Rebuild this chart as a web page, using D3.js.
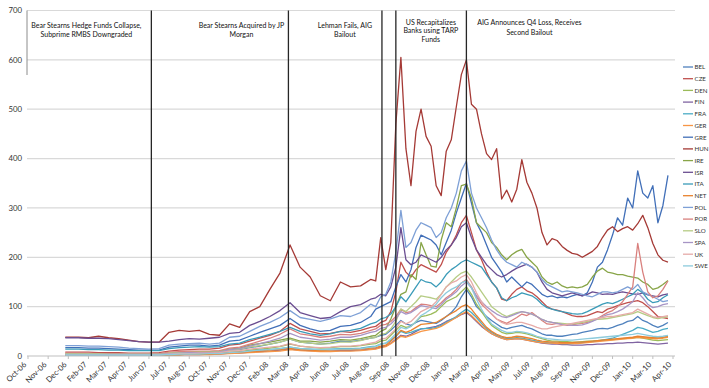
<!DOCTYPE html>
<html><head><meta charset="utf-8">
<script src="https://cdn.jsdelivr.net/npm/d3@7"></script>
<style>body{margin:0;background:#fff} svg{display:block} text{font-family:Lato,'Open Sans',sans-serif}</style>
</head><body><svg id="c" width="709" height="388"></svg>
<script>
const tickLabels = ["Oct-06","Nov-06","Dec-06","Feb-07","Mar-07","Apr-07","Jun-07","Jul-07","Aug-07","Oct-07","Nov-07","Dec-07","Feb-08","Mar-08","Apr-08","Jun-08","Jul-08","Aug-08","Sep-08","Nov-08","Dec-08","Jan-09","Mar-09","Apr-09","May-09","Jul-09","Aug-09","Sep-09","Nov-09","Dec-09","Jan-10","Mar-10","Apr-10"];
const yTicks = [0,100,200,300,400,500,600,700];
// observation positions, in units of the category-axis label interval
const periods = [1.85,2,2.5,3,3.5,4,4.5,5,5.5,6,6.5,7,7.5,8,8.5,9,9.5,10,10.5,11,11.5,12,12.5,13,13.5,14,14.5,15,15.5,16,16.5,17,
17.25,17.5,17.75,18,18.25,18.5,18.75,19,19.25,19.5,19.75,20,20.25,20.5,20.75,21,21.25,21.5,21.75,22,22.25,22.5,22.75,23,23.25,23.5,23.75,24,24.25,24.5,24.75,25,25.25,25.5,25.75,26,26.25,26.5,26.75,27,27.25,27.5,27.75,28,28.25,28.5,28.75,29,29.25,29.5,29.75,30,30.25,30.5,30.75,31,31.25,31.5,31.75];
const countries = ["BEL","CZE","DEN","FIN","FRA","GER","GRE","HUN","IRE","ISR","ITA","NET","POL","POR","SLO","SPA","UK","SWE"];
const colors = ["#4F81BD","#C0504D","#9BBB59","#8064A2","#4BACC6","#F79646","#416FB8","#A53A36","#88A548","#6B4E91","#3A9BB8","#E8822E","#7EA0D6","#D9807E","#B6CC85","#A795C5","#E6ABA8","#8DCBDC"];

const BEL = [3,3,3,3,3,3,3,3,3,3,3,5,6,6,7,7,8,12,13,17,20,24,28,34,28,26,24,26,30,29,32,36,
38,42,44,52,62,72,65,62,68,72,70,68,66,72,80,88,100,120,135,120,100,90,80,72,65,58,55,58,60,62,58,55,50,45,42,42,40,40,42,44,45,48,50,52,55,56,55,58,62,65,70,72,80,72,68,62,58,62,68];
const CZE = [8,8,8,8,7,7,7,6,6,6,7,10,12,13,14,14,16,22,24,30,36,42,50,66,55,50,45,46,50,48,52,58,
60,68,72,90,130,190,170,160,175,185,180,175,170,185,210,225,245,270,285,250,215,195,170,150,138,115,112,125,135,140,132,128,120,110,100,95,93,90,86,82,80,80,82,86,90,88,95,98,102,105,108,110,112,108,100,90,80,78,76];
const DEN = [2,2,2,2,2,2,2,2,2,2,2,3,3,4,4,5,5,8,9,12,14,16,19,24,20,18,16,17,19,19,21,24,
25,30,32,42,52,62,58,60,70,80,82,85,90,100,110,115,120,130,140,125,105,90,75,62,55,48,45,46,48,47,45,42,38,35,32,30,30,29,29,28,28,29,30,30,31,32,32,33,34,35,36,36,38,36,34,32,31,32,33];
const FIN = [2,2,2,2,2,2,2,2,2,2,2,3,3,3,3,4,4,6,6,8,9,10,12,14,12,11,10,10,11,11,12,14,
15,18,20,26,34,42,40,44,50,55,56,58,60,64,70,74,78,84,88,80,70,60,52,45,40,36,33,34,35,34,32,30,28,26,25,24,24,23,23,22,22,22,23,23,24,24,25,25,26,26,27,27,28,27,26,25,24,25,26];
const FRA = [2,2,2,2,2,2,2,2,2,2,2,3,3,4,4,4,5,7,8,10,12,13,15,18,15,14,13,14,15,15,16,19,
20,24,26,32,40,50,46,48,52,55,56,56,58,62,68,74,80,88,95,88,78,66,55,48,42,38,35,36,37,36,34,32,30,28,27,26,26,25,25,25,26,27,28,29,30,32,34,36,40,44,48,52,58,56,52,48,50,54,56];
const GER = [2,2,2,2,2,2,2,2,2,2,2,3,3,3,3,3,4,5,6,7,8,9,10,13,11,10,9,9,10,10,11,13,
14,17,19,25,32,40,38,42,46,50,52,54,56,60,66,72,78,85,90,82,72,62,52,45,40,36,33,34,35,34,32,30,28,27,26,26,25,25,25,25,25,26,27,28,29,30,31,32,33,34,35,36,38,37,36,35,35,36,38];
const GRE = [17,17,17,16,16,15,14,13,12,12,12,18,20,22,22,20,22,30,32,40,48,55,62,76,62,55,50,52,60,62,68,80,
95,100,105,110,140,165,150,175,220,245,240,235,225,205,230,255,290,320,350,310,270,250,225,200,185,170,150,160,150,140,150,145,135,125,120,122,118,120,118,122,125,122,128,150,180,190,215,245,280,265,320,300,375,330,320,345,270,305,366];
const HUN = [38,38,38,37,40,37,35,32,29,28,28,48,52,50,52,44,42,65,58,90,100,135,168,225,180,160,122,112,150,140,142,155,
152,240,175,230,470,605,420,345,455,500,445,425,345,325,415,438,505,570,600,510,500,450,410,398,420,318,336,312,338,398,352,330,300,250,225,238,234,222,214,208,206,200,206,212,222,240,255,262,252,258,262,255,268,285,260,228,205,194,190];
const IRE = [3,3,3,3,3,3,3,3,3,3,4,6,7,8,9,9,10,14,16,22,25,28,32,36,30,30,28,30,33,32,35,40,
42,50,55,75,100,125,130,165,155,230,205,182,180,235,270,262,300,345,348,320,270,260,250,230,220,205,195,205,212,216,200,190,180,160,150,145,150,142,138,140,138,140,145,160,172,178,170,168,165,165,162,160,158,150,145,135,138,145,153];
const ISR = [37,37,37,36,36,35,33,31,29,28,28,30,33,35,34,36,38,46,48,62,70,80,92,108,88,82,76,78,90,100,104,115,
118,125,122,140,180,260,195,185,190,205,200,195,190,200,215,225,240,262,270,240,215,200,185,175,165,160,165,172,178,182,186,180,170,150,135,128,125,122,125,128,125,122,125,130,128,125,126,125,128,130,128,126,125,128,124,122,120,124,126];
const ITA = [14,14,14,13,13,12,12,11,11,11,11,15,17,18,19,18,19,24,26,33,38,44,50,58,50,45,42,45,50,52,56,65,
68,75,78,85,100,120,110,125,140,155,150,148,140,150,165,175,182,190,195,190,185,180,165,150,138,118,112,118,122,128,125,122,115,105,98,95,92,90,88,86,85,86,90,95,100,105,108,106,110,115,120,125,135,128,115,108,110,118,124];
const NET = [2,2,2,2,2,2,2,2,2,2,2,3,3,4,4,4,5,7,8,9,10,12,13,16,13,12,11,12,13,13,14,16,
17,20,22,30,40,52,48,52,58,64,65,66,68,74,80,86,92,100,104,95,82,70,58,50,44,40,37,38,40,39,37,35,32,30,29,28,28,27,27,27,28,28,29,30,31,32,33,34,35,36,37,38,40,39,38,37,37,38,40];
const POL = [21,21,21,20,20,19,18,16,15,14,15,22,24,25,26,24,26,38,40,50,60,68,78,92,78,74,70,75,82,80,88,105,
100,120,125,150,210,295,220,230,255,270,265,260,240,250,280,300,330,375,395,330,300,280,260,235,215,200,190,185,180,190,185,180,170,155,145,140,135,130,132,130,128,125,122,120,125,130,130,128,130,135,140,135,145,130,125,120,115,110,112];
const POR = [6,6,6,6,5,5,5,5,5,5,5,8,9,10,10,10,11,16,18,24,30,36,44,55,45,42,38,40,44,43,46,52,
55,62,64,70,80,95,88,90,98,105,104,102,100,108,118,125,135,148,155,140,120,105,95,85,75,70,66,72,78,85,82,88,80,72,65,64,66,64,62,63,65,66,68,72,76,82,88,92,100,110,125,140,228,170,130,118,122,135,152];
const SLO = [5,5,5,5,5,4,4,4,4,4,4,6,7,7,8,8,9,12,14,18,21,24,28,34,28,26,24,25,28,28,31,36,
38,44,46,55,70,95,90,100,110,122,120,118,115,125,140,150,160,168,172,160,145,130,115,100,92,85,80,84,88,90,88,85,80,74,70,68,67,66,65,65,66,68,70,72,74,75,76,78,80,82,84,86,90,86,82,78,76,78,80];
const SPA = [3,3,3,3,3,3,3,3,3,3,3,5,6,7,7,7,8,13,15,20,25,30,36,46,38,35,32,34,38,38,42,48,
50,56,58,65,75,90,85,88,95,102,100,98,96,104,115,122,130,142,150,138,122,110,100,92,85,80,78,82,86,90,88,85,80,74,70,68,66,64,63,62,62,63,66,70,75,80,84,86,90,95,102,110,128,118,105,98,100,104,106];
const UK = [2,2,2,2,2,2,2,2,2,2,2,4,5,5,6,6,7,10,11,14,16,18,20,25,20,18,17,18,20,20,22,26,
28,34,36,45,55,70,65,70,80,90,95,100,110,125,140,148,152,160,165,150,128,110,95,85,75,68,64,66,68,68,65,62,58,55,55,58,60,62,64,66,68,70,72,74,76,78,80,80,82,84,86,88,95,90,85,80,78,80,82];
const SWE = [2,2,2,2,2,2,2,2,2,2,2,3,4,4,4,5,5,7,8,10,12,13,15,18,15,14,13,13,14,14,15,18,
19,24,26,35,45,58,55,60,70,82,88,95,105,118,128,135,140,148,152,138,115,95,78,65,58,52,48,48,50,49,47,44,40,37,35,34,33,32,32,32,33,34,35,36,37,38,39,40,41,42,43,44,46,44,42,40,39,40,42];

const seriesValues = [BEL,CZE,DEN,FIN,FRA,GER,GRE,HUN,IRE,ISR,ITA,NET,POL,POR,SLO,SPA,UK,SWE];

const eventPeriods = [6.12, 12.92, 17.56, 18.25, 21.75];
const eventNotes = [
  ["Bear Stearns Hedge Funds Collapse,","Subprime RMBS Downgraded"],
  ["Bear Stearns Acquired by JP","Morgan"],
  ["Lehman Fails, AIG","Bailout"],
  ["US Recapitalizes","Banks using TARP","Funds"],
  ["AIG Announces Q4 Loss, Receives","Second Bailout"]
];

const svg = d3.select("#c");
const x = d3.scaleLinear().domain([0, tickLabels.length - 1]).range([28, 673]);
const y = d3.scaleLinear().domain([0, 700]).range([356, 10.5]);
const plotL = 27, plotR = 675;

// gridlines
svg.append("g").selectAll("line").data(yTicks).join("line")
  .attr("x1", plotL).attr("x2", plotR)
  .attr("y1", d => y(d)).attr("y2", d => y(d))
  .attr("stroke", d => d === 0 ? "#bfbfbf" : "#d9d9d9").attr("stroke-width", 1.2);

// y labels
svg.append("g").selectAll("text").data(yTicks).join("text")
  .attr("x", 22).attr("y", d => y(d) + 2.8)
  .attr("text-anchor", "end").attr("font-size", 7.8).attr("fill", "#333")
  .text(d => d);

// x ticks + labels
svg.append("g").selectAll("line").data(tickLabels).join("line")
  .attr("x1", (d, i) => x(i)).attr("x2", (d, i) => x(i))
  .attr("y1", y(0)).attr("y2", y(0) + 3)
  .attr("stroke", "#bfbfbf").attr("stroke-width", 1);
svg.append("g").selectAll("text").data(tickLabels).join("text")
  .attr("transform", (d, i) => `translate(${x(i) - 1},${y(0) + 9}) rotate(-45)`)
  .attr("text-anchor", "end").attr("font-size", 7.8).attr("fill", "#333")
  .text(d => d);

// series
const line = d3.line().x((d, i) => x(periods[i])).y(d => y(d));
svg.append("g").selectAll("path").data(seriesValues).join("path")
  .attr("d", d => line(d))
  .attr("fill", "none")
  .attr("stroke", (d, i) => colors[i])
  .attr("stroke-width", 1.3)
  .attr("stroke-linejoin", "round");

// event lines
svg.append("line").attr("x1", plotL).attr("x2", plotL).attr("y1", y(700)).attr("y2", 75)
  .attr("stroke", "#8c8c8c").attr("stroke-width", 1);
svg.append("g").selectAll("line").data(eventPeriods).join("line")
  .attr("x1", d => x(d)).attr("x2", d => x(d))
  .attr("y1", y(700)).attr("y2", y(0))
  .attr("stroke", "#262626").attr("stroke-width", 1.3);

// annotations
const noteOffset = [-65, -47, -37, 35, 63];
const noteTop = [25, 25, 25, 22, 22.5];
const noteGap = [9.5, 9.5, 9.5, 8.8, 9.8];
eventNotes.forEach((lines, k) => {
  const t = svg.append("text").attr("text-anchor", "middle").attr("font-size", 7).attr("fill", "#111");
  lines.forEach((s, j) => {
    t.append("tspan").attr("x", x(eventPeriods[k]) + noteOffset[k])
      .attr("y", noteTop[k] + j * noteGap[k] + 2.5).text(s);
  });
});

// legend
const lg = svg.append("g").selectAll("g").data(countries).join("g")
  .attr("transform", (d, i) => `translate(683,${67 + i * 11.7})`);
lg.append("line").attr("x1", 0).attr("x2", 10).attr("stroke", (d, i) => colors[i]).attr("stroke-width", 1.3);
lg.append("text").attr("x", 11.5).attr("y", 2.3).attr("font-size", 6.2).attr("fill", "#333").text(d => d);
</script></body></html>
